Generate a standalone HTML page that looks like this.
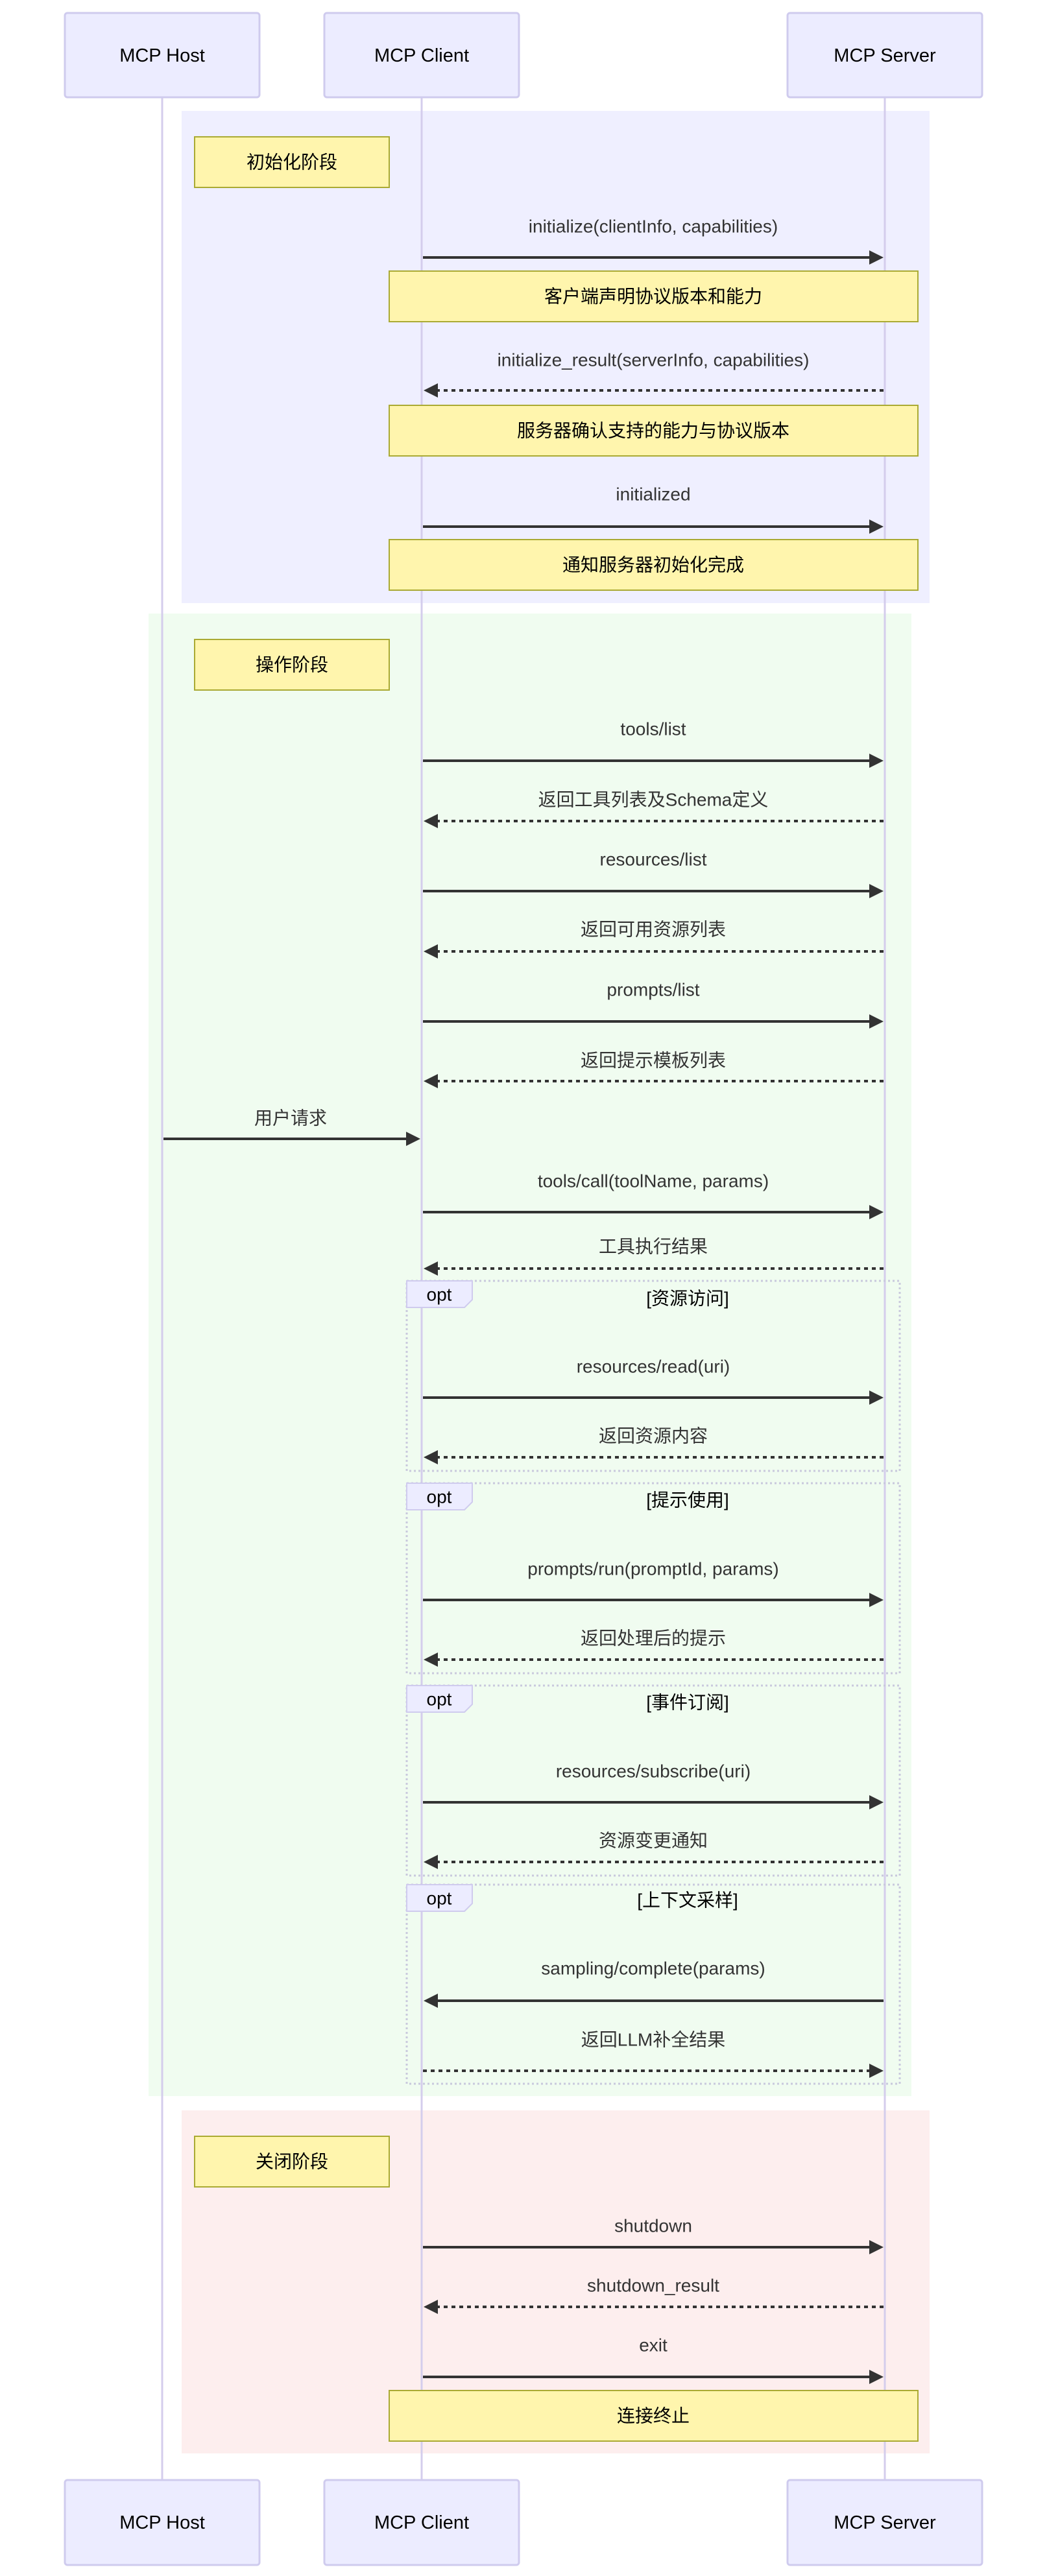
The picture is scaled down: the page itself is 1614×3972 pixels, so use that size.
<!DOCTYPE html>
<html><head><meta charset="utf-8"><style>
html,body{margin:0;padding:0;background:#fff}
svg{display:block}
text{font-family:"Liberation Sans","Noto Sans CJK SC",sans-serif;fill:#333}
</style></head><body>
<svg width="1614" height="3972" viewBox="0 0 1614 3972" xmlns="http://www.w3.org/2000/svg">
<defs>
<marker id="ah" markerWidth="12" markerHeight="12" refX="11" refY="6" orient="auto" markerUnits="userSpaceOnUse" viewBox="0 0 12 12">
</marker>
</defs>
<!-- section backgrounds -->
<rect x="280" y="171" width="1153" height="759" fill="#efefff"/>
<rect x="229" y="946" width="1176" height="2286" fill="#f0fcf0"/>
<rect x="280" y="3254" width="1153" height="529" fill="#fdeeee"/>

<!-- lifelines -->
<g stroke="#d4cdec" stroke-width="3">
<line x1="250" y1="150" x2="250" y2="3824"/>
<line x1="650" y1="150" x2="650" y2="3824"/>
<line x1="1364" y1="150" x2="1364" y2="3824"/>
</g>

<!-- actor boxes -->
<g fill="#ececff" stroke="#cfcbee" stroke-width="3">
<rect x="100" y="20" width="300" height="130" rx="4"/>
<rect x="500" y="20" width="300" height="130" rx="4"/>
<rect x="1214" y="20" width="300" height="130" rx="4"/>
<rect x="100" y="3824" width="300" height="131" rx="4"/>
<rect x="500" y="3824" width="300" height="131" rx="4"/>
<rect x="1214" y="3824" width="300" height="131" rx="4"/>
</g>
<g font-size="29" text-anchor="middle" dominant-baseline="central">
<text x="250" y="86" style="fill:#000">MCP Host</text>
<text x="650" y="86" style="fill:#000">MCP Client</text>
<text x="1364" y="86" style="fill:#000">MCP Server</text>
<text x="250" y="3890" style="fill:#000">MCP Host</text>
<text x="650" y="3890" style="fill:#000">MCP Client</text>
<text x="1364" y="3890" style="fill:#000">MCP Server</text>
</g>

<!-- notes -->
<g fill="#fff5ad" stroke="#aaaa33" stroke-width="2">
<rect x="300" y="211" width="300" height="78"/>
<rect x="600" y="418" width="815" height="78"/>
<rect x="600" y="625" width="815" height="78"/>
<rect x="600" y="832" width="815" height="78"/>
<rect x="300" y="986" width="300" height="78"/>
<rect x="300" y="3294" width="300" height="78"/>
<rect x="600" y="3686" width="815" height="78"/>
</g>
<g font-size="28" text-anchor="middle" dominant-baseline="central">
<text x="450" y="250" style="fill:#000">初始化阶段</text>
<text x="1007" y="457" style="fill:#000">客户端声明协议版本和能力</text>
<text x="1007" y="664" style="fill:#000">服务器确认支持的能力与协议版本</text>
<text x="1007" y="871" style="fill:#000">通知服务器初始化完成</text>
<text x="450" y="1025" style="fill:#000">操作阶段</text>
<text x="450" y="3333" style="fill:#000">关闭阶段</text>
<text x="1007" y="3725" style="fill:#000">连接终止</text>
</g>

<!-- opt boxes -->
<g fill="none" stroke="#c9c9dd" stroke-width="3" stroke-dasharray="3 4">
<rect x="627" y="1975" width="760" height="293"/>
<rect x="627" y="2287" width="760" height="293"/>
<rect x="627" y="2599" width="760" height="293"/>
<rect x="627" y="2906" width="760" height="307"/>
</g>
<g fill="#ececff" stroke="#cfcbee" stroke-width="2">
<polygon points="627,1975 728,1975 728,2004 716,2016 627,2016"/>
<polygon points="627,2287 728,2287 728,2316 716,2328 627,2328"/>
<polygon points="627,2599 728,2599 728,2628 716,2640 627,2640"/>
<polygon points="627,2906 728,2906 728,2935 716,2947 627,2947"/>
</g>
<g font-size="28" dominant-baseline="central">
<text x="677" y="1996" text-anchor="middle" style="fill:#000">opt</text>
<text x="677" y="2308" text-anchor="middle" style="fill:#000">opt</text>
<text x="677" y="2620" text-anchor="middle" style="fill:#000">opt</text>
<text x="677" y="2927" text-anchor="middle" style="fill:#000">opt</text>
<text x="1060" y="2002" text-anchor="middle" style="fill:#000">[资源访问]</text>
<text x="1060" y="2313" text-anchor="middle" style="fill:#000">[提示使用]</text>
<text x="1060" y="2625" text-anchor="middle" style="fill:#000">[事件订阅]</text>
<text x="1060" y="2930" text-anchor="middle" style="fill:#000">[上下文采样]</text>
</g>

<!-- messages -->
<g font-size="28" text-anchor="middle" dominant-baseline="central">
<text x="1007" y="349">initialize(clientInfo, capabilities)</text>
<text x="1007" y="555">initialize_result(serverInfo, capabilities)</text>
<text x="1007" y="762">initialized</text>
<text x="1007" y="1124">tools/list</text>
<text x="1007" y="1233">返回工具列表及Schema定义</text>
<text x="1007" y="1325">resources/list</text>
<text x="1007" y="1433">返回可用资源列表</text>
<text x="1007" y="1526">prompts/list</text>
<text x="1007" y="1635">返回提示模板列表</text>
<text x="448" y="1724">用户请求</text>
<text x="1007" y="1821">tools/call(toolName, params)</text>
<text x="1007" y="1922">工具执行结果</text>
<text x="1007" y="2107">resources/read(uri)</text>
<text x="1007" y="2214">返回资源内容</text>
<text x="1007" y="2419">prompts/run(promptId, params)</text>
<text x="1007" y="2526">返回处理后的提示</text>
<text x="1007" y="2731">resources/subscribe(uri)</text>
<text x="1007" y="2838">资源变更通知</text>
<text x="1007" y="3035">sampling/complete(params)</text>
<text x="1007" y="3145">返回LLM补全结果</text>
<text x="1007" y="3432">shutdown</text>
<text x="1007" y="3524">shutdown_result</text>
<text x="1007" y="3616">exit</text>
</g>

<g stroke="#333" stroke-width="4" fill="none">
<!-- solid right: client->server -->
<line x1="652" y1="397" x2="1342" y2="397"/>
<line x1="652" y1="812" x2="1342" y2="812"/>
<line x1="652" y1="1173" x2="1342" y2="1173"/>
<line x1="652" y1="1374" x2="1342" y2="1374"/>
<line x1="652" y1="1575" x2="1342" y2="1575"/>
<line x1="252" y1="1756" x2="628" y2="1756"/>
<line x1="652" y1="1869" x2="1342" y2="1869"/>
<line x1="652" y1="2155" x2="1342" y2="2155"/>
<line x1="652" y1="2467" x2="1342" y2="2467"/>
<line x1="652" y1="2779" x2="1342" y2="2779"/>
<line x1="652" y1="3465" x2="1342" y2="3465"/>
<line x1="652" y1="3665" x2="1342" y2="3665"/>
<!-- solid left server->client -->
<line x1="1362" y1="3085" x2="672" y2="3085"/>
<!-- dotted -->
<g stroke-dasharray="6 6">
<line x1="1362" y1="602" x2="672" y2="602"/>
<line x1="1362" y1="1266" x2="672" y2="1266"/>
<line x1="1362" y1="1467" x2="672" y2="1467"/>
<line x1="1362" y1="1667" x2="672" y2="1667"/>
<line x1="1362" y1="1956" x2="672" y2="1956"/>
<line x1="1362" y1="2247" x2="672" y2="2247"/>
<line x1="1362" y1="2559" x2="672" y2="2559"/>
<line x1="1362" y1="2871" x2="672" y2="2871"/>
<line x1="1362" y1="3557" x2="672" y2="3557"/>
<line x1="652" y1="3193" x2="1342" y2="3193"/>
</g>
</g>

<!-- arrowheads -->
<g fill="#333">
<polygon points="1362,397 1340,386 1340,408"/>
<polygon points="1362,812 1340,801 1340,823"/>
<polygon points="1362,1173 1340,1162 1340,1184"/>
<polygon points="1362,1374 1340,1363 1340,1385"/>
<polygon points="1362,1575 1340,1564 1340,1586"/>
<polygon points="648,1756 626,1745 626,1767"/>
<polygon points="1362,1869 1340,1858 1340,1880"/>
<polygon points="1362,2155 1340,2144 1340,2166"/>
<polygon points="1362,2467 1340,2456 1340,2478"/>
<polygon points="1362,2779 1340,2768 1340,2790"/>
<polygon points="1362,3465 1340,3454 1340,3476"/>
<polygon points="1362,3665 1340,3654 1340,3676"/>
<polygon points="1362,3193 1340,3182 1340,3204"/>
<polygon points="653,602 675,591 675,613"/>
<polygon points="653,1266 675,1255 675,1277"/>
<polygon points="653,1467 675,1456 675,1478"/>
<polygon points="653,1667 675,1656 675,1678"/>
<polygon points="653,1956 675,1945 675,1967"/>
<polygon points="653,2247 675,2236 675,2258"/>
<polygon points="653,2559 675,2548 675,2570"/>
<polygon points="653,2871 675,2860 675,2882"/>
<polygon points="653,3557 675,3546 675,3568"/>
<polygon points="653,3085 675,3074 675,3096"/>
</g>
</svg>
</body></html>
